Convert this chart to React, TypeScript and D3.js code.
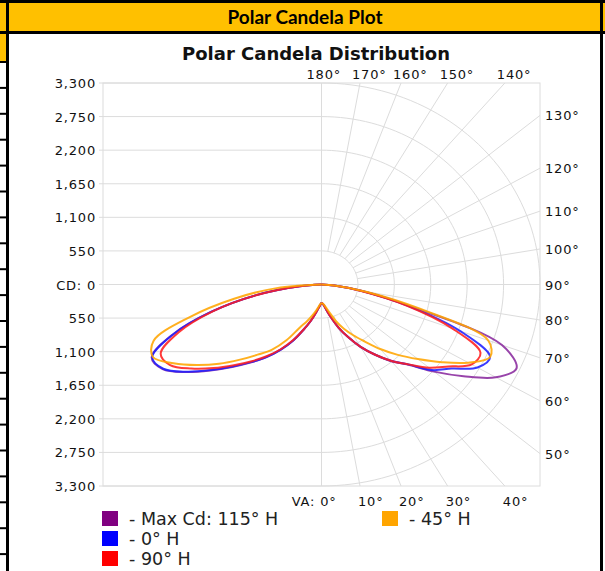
import { useEffect, useRef } from "react";
import * as d3 from "d3";

// vertical angles (deg from nadir) for every candela list below
const angles = [0, 5, 10, 15, 20, 25, 30, 35, 40, 45, 50, 55, 60, 65, 70, 75, 80, 85, 90];

// left half of the plot (mirrored plane)
const maxCdLeft = [300, 360, 460, 610, 790, 1010, 1230, 1450, 1670, 1910, 2190, 2500, 2770, 2830, 2390, 1720, 1000, 330, 0];
const h0Left = [300, 360, 460, 610, 780, 1010, 1230, 1450, 1660, 1900, 2180, 2490, 2760, 2820, 2380, 1720, 1000, 330, 0];
const h90Left = [300, 360, 460, 610, 780, 1000, 1220, 1430, 1640, 1870, 2130, 2400, 2640, 2680, 2300, 1700, 990, 330, 0];
const h45Left = [300, 340, 420, 520, 640, 780, 1050, 1300, 1500, 1740, 2020, 2300, 2580, 2810, 2700, 2060, 1340, 680, 0];

// right half of the plot
const maxCdRight = [300, 330, 420, 560, 750, 950, 1180, 1400, 1640, 1860, 2220, 2620, 3040, 3250, 2900, 1420, 640, 200, 0];
const h0Right = [300, 330, 420, 560, 750, 950, 1180, 1400, 1630, 1850, 2180, 2400, 2720, 2810, 2230, 1350, 620, 190, 0];
const h90Right = [300, 330, 420, 560, 750, 950, 1180, 1400, 1630, 1850, 2120, 2340, 2620, 2650, 2100, 1330, 610, 190, 0];
const h45Right = [300, 320, 380, 480, 640, 800, 960, 1140, 1380, 1630, 1900, 2220, 2560, 2810, 2680, 1550, 700, 220, 0];

const seriesNames = ["- Max Cd: 115° H", "- 0° H", "- 90° H", "- 45° H"];
const seriesColors = ["#800080", "#0000ff", "#ff0000", "#ffa500"];
const lineColors = ["#8a2a9e", "#1f1fff", "#ff1f1f", "#ffa500"];

const cdTicks = [0, 550, 1100, 1650, 2200, 2750, 3300];
const gridAngles = [0, 10, 20, 30, 40, 50, 60, 70, 80, 90, 100, 110, 120, 130, 140, 150, 160, 170, 180];

const W = 605;
const H = 571;

const PolarChart = () => {
  const svgRef = useRef<SVGSVGElement>(null);

  useEffect(() => {
    if (!svgRef.current) return;
    const svg = d3.select(svgRef.current);
    svg.selectAll("*").remove();

    const maxR = cdTicks[cdTicks.length - 1];
    const x = d3.scaleLinear().domain([-maxR, maxR]).range([103, 540]);
    const y = d3.scaleLinear().domain([-maxR, maxR]).range([486, 83]);
    const rad = (a: number) => (a * Math.PI) / 180;

    svg.append("rect").attr("width", W).attr("height", H).attr("fill", "#fff");

    // spreadsheet header band + cell borders
    svg.append("rect").attr("x", 0).attr("y", 0).attr("width", W).attr("height", 33).attr("fill", "#ffc000");
    svg.append("rect").attr("x", 0).attr("y", 33).attr("width", 7).attr("height", 29).attr("fill", "#ffc000");
    svg.append("rect").attr("x", 0).attr("y", 0).attr("width", W).attr("height", 3).attr("fill", "#000");
    svg.append("rect").attr("x", 0).attr("y", 31).attr("width", W).attr("height", 3).attr("fill", "#000");
    svg.append("rect").attr("x", 6).attr("y", 0).attr("width", 3).attr("height", H).attr("fill", "#000");
    svg.append("rect").attr("x", 600).attr("y", 0).attr("width", 3).attr("height", H).attr("fill", "#000");
    const rowLines = d3.range(20).map((i) => 62 + i * 25.9);
    svg
      .selectAll(".row")
      .data(rowLines)
      .enter()
      .append("rect")
      .attr("x", 0)
      .attr("y", (d) => d - 1)
      .attr("width", 7)
      .attr("height", 2)
      .attr("fill", "#000");

    svg
      .append("text")
      .attr("x", 305)
      .attr("y", 24)
      .attr("text-anchor", "middle")
      .attr("font-family", "Lato, 'Open Sans', sans-serif")
      .attr("font-weight", "bold")
      .attr("font-size", 19)
      .text("Polar Candela Plot");

    svg
      .append("text")
      .attr("x", 316)
      .attr("y", 60)
      .attr("text-anchor", "middle")
      .attr("font-family", "'DejaVu Sans', sans-serif")
      .attr("font-weight", "bold")
      .attr("font-size", 18)
      .attr("fill", "#111")
      .text("Polar Candela Distribution");

    const grid = svg.append("g").attr("stroke", "#dcdcdc").attr("stroke-width", 1).attr("fill", "none");
    const cx = x(0);
    const cy = y(0);

    // left half: plain horizontal grid
    cdTicks.forEach((t) => {
      [t, -t].forEach((v) => {
        grid.append("line").attr("x1", 99).attr("x2", cx).attr("y1", y(v)).attr("y2", y(v));
      });
    });
    grid.append("line").attr("x1", cx).attr("x2", x(maxR)).attr("y1", cy).attr("y2", cy);
    grid.append("line").attr("x1", cx).attr("x2", cx).attr("y1", y(maxR)).attr("y2", y(-maxR));

    // right half: polar rings
    cdTicks.slice(1).forEach((r) => {
      const pts = d3.range(0, 181, 2).map((a) => [x(r * Math.sin(rad(a))), y(-r * Math.cos(rad(a)))] as [number, number]);
      grid.append("path").attr("d", d3.line()(pts));
    });

    // radial spokes from the first ring out to the frame
    const edge = (a: number) => {
      const s = Math.sin(rad(a));
      const c = -Math.cos(rad(a));
      const t = Math.min(Math.abs(s) > 1e-9 ? maxR / Math.abs(s) : Infinity, Math.abs(c) > 1e-9 ? maxR / Math.abs(c) : Infinity);
      return { dx: s * t, dy: c * t, s, c };
    };
    gridAngles.filter((a) => a > 0 && a < 180).forEach((a) => {
      const e = edge(a);
      const r0 = cdTicks[1];
      grid
        .append("line")
        .attr("x1", x(r0 * e.s))
        .attr("y1", y(r0 * e.c))
        .attr("x2", x(e.dx))
        .attr("y2", y(e.dy));
    });

    grid
      .append("rect")
      .attr("x", x(-maxR))
      .attr("y", y(maxR))
      .attr("width", x(maxR) - x(-maxR))
      .attr("height", y(-maxR) - y(maxR));

    // axis labels
    const lab = svg
      .append("g")
      .attr("font-family", "'DejaVu Sans', sans-serif")
      .attr("font-size", 13)
      .attr("letter-spacing", 0.8)
      .attr("fill", "#111");
    const fmt = d3.format(",");
    cdTicks.forEach((t) => {
      [t, -t].forEach((v, i) => {
        if (t === 0 && i === 1) return;
        lab
          .append("text")
          .attr("x", 96)
          .attr("y", y(v) + 5)
          .attr("text-anchor", "end")
          .text(t === 0 ? "CD: 0" : fmt(t));
      });
    });

    gridAngles.forEach((a) => {
      const e = edge(a);
      const px = x(e.dx);
      const py = y(e.dy);
      const onSide = Math.abs(e.s) > Math.abs(e.c) + 1e-9;
      if (onSide) {
        lab.append("text").attr("x", 545).attr("y", py + 5).text(`${a}°`);
      } else if (e.c > 0) {
        lab
          .append("text")
          .attr("x", a === 180 ? px - 15 : px - 8)
          .attr("y", 79)
          .text(`${a}°`);
      } else if (a === 0) {
        lab.append("text").attr("x", px + 15).attr("y", 506).attr("text-anchor", "end").text("VA: 0°");
      } else {
        lab.append("text").attr("x", px - 2).attr("y", 506).text(`${a}°`);
      }
    });

    // candela curves
    const leftSets = [maxCdLeft, h0Left, h90Left, h45Left];
    const rightSets = [maxCdRight, h0Right, h90Right, h45Right];
    const curve = d3.line().curve(d3.curveCatmullRom.alpha(0.5));
    const curves = svg.append("g").attr("fill", "none").attr("stroke-width", 2).attr("stroke-opacity", 0.88);
    seriesNames.forEach((_, i) => {
      const left = angles.map((a, j) => [x(-leftSets[i][j] * Math.sin(rad(a))), y(-leftSets[i][j] * Math.cos(rad(a)))] as [number, number]);
      const right = angles.map((a, j) => [x(rightSets[i][j] * Math.sin(rad(a))), y(-rightSets[i][j] * Math.cos(rad(a)))] as [number, number]);
      curves.append("path").attr("d", curve(left)).attr("stroke", lineColors[i]);
      curves.append("path").attr("d", curve(right)).attr("stroke", lineColors[i]);
    });

    // legend
    const legendPos = [
      [102, 511],
      [102, 531],
      [102, 551],
      [382, 511],
    ];
    const legend = svg
      .append("g")
      .attr("font-family", "'DejaVu Sans', sans-serif")
      .attr("font-size", 17.5)
      .attr("fill", "#222");
    seriesNames.forEach((name, i) => {
      const [lx, ly] = legendPos[i];
      legend
        .append("rect")
        .attr("x", lx)
        .attr("y", ly)
        .attr("width", 16)
        .attr("height", 15)
        .attr("fill", seriesColors[i]);
      legend
        .append("text")
        .attr("x", lx + 27)
        .attr("y", ly + 14)
        .text(name);
    });
  }, []);

  return <svg ref={svgRef} width={W} height={H} style={{ position: "absolute", left: 0, top: 0, display: "block" }} />;
};

export default function App() {
  return <PolarChart />;
}
